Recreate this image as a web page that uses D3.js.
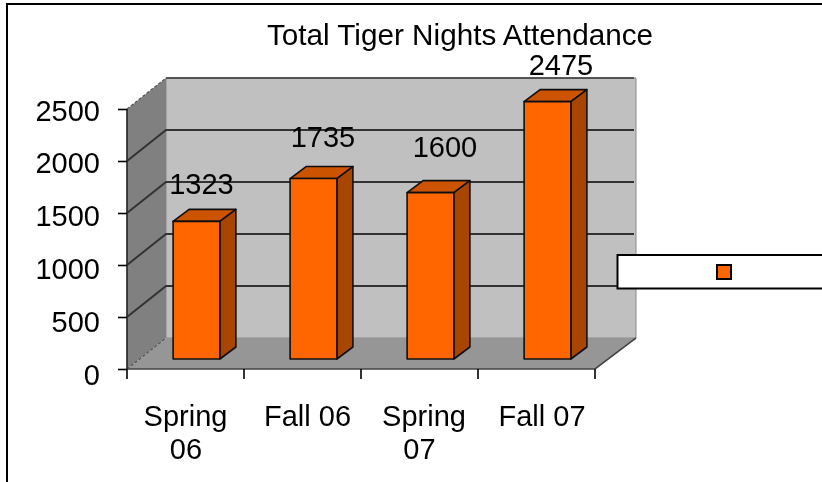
<!DOCTYPE html>
<html><head><meta charset="utf-8">
<script src="https://cdnjs.cloudflare.com/ajax/libs/d3/7.8.5/d3.min.js"></script>
<style>html,body{margin:0;padding:0;background:#fff;overflow:hidden}svg{display:block}text{font-family:"Liberation Sans",Arial,sans-serif;fill:#000}</style>
</head><body><svg id="c" width="822" height="482"><defs><filter id="soft" x="-5%" y="-5%" width="110%" height="110%"><feGaussianBlur stdDeviation="0.5"/></filter></defs></svg>
<script>
const title = "Total Tiger Nights Attendance";
const categories = ["Spring 06","Fall 06","Spring 07","Fall 07"];
const categoryLines = [["Spring","06"],["Fall 06"],["Spring","07"],["Fall 07"]];
const values = [1323,1735,1600,2475];
const yTicks = [0,500,1000,1500,2000,2500];
// hand-placed nudges seen in the picture: label x / baseline relative to its bar, category line x
const valueLabelNudge = [[5,-27],[9.5,-31.6],[14.5,-35.6],[13.5,-26.6]];
const categoryNudge = [[0,0.5],[5],[4.5,0],[5.5]];

const svg = d3.select("#c");
const fs = 29;
const x = d3.scaleBand().domain(categories).range([127,595]);
const y = d3.scaleLinear().domain([0,2500]).range([369,109]);
const yLabel = d3.scaleLinear().domain([0,2500]).range([384,120]);
const depth = {dx:39, dy:-31};
const barDepth = {dx:16, dy:-12};
const barOffset = {dx:11, dy:-10};
const barW = x.bandwidth()*0.4;
const poly = pts => pts.map(p=>p.join(",")).join(" ");

// open frame: only top and left edges are inside the picture
svg.append("path").attr("fill","none").attr("stroke","#000").attr("stroke-width",2)
  .attr("d","M822,4H7V482");

const soft = svg.append("g").attr("filter","url(#soft)");
const g = soft.append("g");
const x0=x.range()[0], x1=x.range()[1], yb=y(0), yt=y(2500);
const backL=x0+depth.dx, backR=x1+depth.dx+2;
g.append("polygon").attr("points",poly([[backL,yb+depth.dy],[backR,yb+depth.dy],[backR,yt+depth.dy],[backL,yt+depth.dy]]))
  .attr("fill","#c0c0c0").attr("stroke","#8a8a8a").attr("stroke-width",1);
g.append("polygon").attr("points",poly([[x0,yb],[backL,yb+depth.dy],[backL,yt+depth.dy],[x0,yt]]))
  .attr("fill","#808080");
g.append("polygon").attr("points",poly([[x0,yb],[x1,yb],[backR,yb+depth.dy],[backL,yb+depth.dy]]))
  .attr("fill","#969696");
yTicks.forEach(t=>{
  const yy=y(t);
  const faint = t===0 || t===2500;
  g.append("path").attr("fill","none").attr("stroke",faint?"#555":"#333").attr("stroke-width",faint?1.2:2)
   .attr("stroke-dasharray",faint?"3 2":null)
   .attr("d",`M${x0},${yy}L${backL},${yy+depth.dy}`+(t===2500||t===0?"":`H${backR-2}`));
  if(t===2500) g.append("path").attr("fill","none").attr("stroke","#333").attr("stroke-width",1.6)
   .attr("d",`M${backL},${yy+depth.dy}H${backR-2}`);
});
g.append("path").attr("fill","none").attr("stroke","#444").attr("stroke-width",1.6)
 .attr("d",`M${x0},${yb}L${x1},${yb}L${backR},${yb+depth.dy}`);

const bars = g.selectAll("g.bar").data(values).join("g").attr("class","bar");
categories.forEach((c,i)=>{
  const v=values[i];
  const L=x(c)+(x.bandwidth()-barW)/2+barOffset.dx, R=L+barW;
  const B=y(0)+barOffset.dy, T=y(v)+barOffset.dy;
  const d=barDepth;
  const b=d3.select(bars.nodes()[i]).attr("stroke","#111").attr("stroke-width",1.6).attr("stroke-linejoin","round");
  b.append("polygon").attr("points",poly([[L,T],[R,T],[R+d.dx,T+d.dy],[L+d.dx,T+d.dy]])).attr("fill","#cc5200");
  b.append("polygon").attr("points",poly([[R,T],[R+d.dx,T+d.dy],[R+d.dx,B+d.dy],[R,B]])).attr("fill","#a84400");
  b.append("rect").attr("x",L).attr("y",T).attr("width",barW).attr("height",B-T).attr("fill","#ff6600");
});

values.forEach((v,i)=>{
  const c=categories[i];
  soft.append("text").attr("text-anchor","middle").attr("font-size",fs)
    .attr("x",x(c)+x.bandwidth()/2+barOffset.dx+valueLabelNudge[i][0])
    .attr("y",y(v)+barOffset.dy+valueLabelNudge[i][1])
    .text(v);
});

const yAxis = d3.axisLeft(y).tickValues(yTicks).tickSize(9).tickPadding(18).tickFormat(d3.format("d"));
const ya = soft.append("g").attr("transform",`translate(${x0},0)`).call(yAxis);
ya.select(".domain").attr("stroke","#222").attr("stroke-width",1.6).attr("d",`M0,${yt}L0,${yb}`);
ya.selectAll(".tick line").attr("stroke","#000").attr("stroke-width",1.6);
ya.selectAll(".tick text").attr("font-size",fs).attr("font-family",null).attr("fill","#000")
  .attr("dy",null).attr("y",d=>yLabel(d)-y(d));

const xTicks=[...categories.map(c=>x(c)),x1];
soft.append("g").selectAll("line").data(xTicks).join("line")
  .attr("x1",d=>d).attr("x2",d=>d).attr("y1",yb).attr("y2",yb+10).attr("stroke","#000").attr("stroke-width",1.6);
categories.forEach((c,i)=>{
  const t=soft.append("text").attr("text-anchor","middle").attr("font-size",fs).attr("y",426);
  categoryLines[i].forEach((ln,k)=>t.append("tspan").attr("x",x(c)+x.bandwidth()/2+categoryNudge[i][k]).attr("dy",k?33:0).text(ln));
});

soft.append("text").attr("text-anchor","middle").attr("x",460).attr("y",45).attr("font-size",29.7).text(title);

// legend box runs off the right edge
svg.append("path").attr("fill","#fff").attr("stroke","#000").attr("stroke-width",2)
  .attr("d","M823,255H617.5V288.5H823");
svg.append("rect").attr("x",717).attr("y",265).attr("width",14).attr("height",14).attr("fill","#ff6600").attr("stroke","#000").attr("stroke-width",2);
</script></body></html>
